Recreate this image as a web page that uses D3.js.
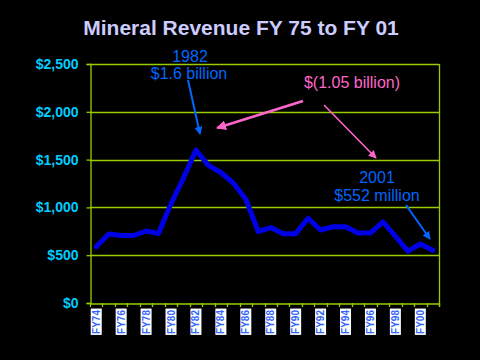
<!DOCTYPE html>
<html>
<head>
<meta charset="utf-8">
<script src="https://cdn.jsdelivr.net/npm/d3@7"></script>
<style>
html,body{margin:0;padding:0;background:#000;}
svg{display:block;}
</style>
</head>
<body>
<svg id="chart" width="480" height="360"></svg>
<script>
// ---- Data ----
const categories = ["FY74","FY75","FY76","FY77","FY78","FY79","FY80","FY81","FY82","FY83","FY84","FY85","FY86","FY87",
  "FY88","FY89","FY90","FY91","FY92","FY93","FY94","FY95","FY96","FY97","FY98","FY99","FY00","FY01"];
const revenue = [588,722,706,706,753,727,1040,1307,1600,1440,1365,1255,1085,748,
  789,725,725,887,764,798,798,732,732,848,700,543,617,552];
const xTickLabels = ["FY74","FY76","FY78","FY80","FY82","FY84","FY86","FY88","FY90","FY92","FY94","FY96","FY98","FY00"];
const yTicks = [0,500,1000,1500,2000,2500];
const titleText = "Mineral Revenue FY 75 to FY 01";

(function(){
// ---- Layout ----
const svg = d3.select("#chart");
const pL = 90, pR = 439, pT = 64, pB = 303;
const gridColor = "#99cc00";

const x = d3.scaleBand().domain(categories).range([pL, pR]).padding(0);
const y = d3.scaleLinear().domain([0, 2500]).range([pB, pT]);

svg.append("rect").attr("width",480).attr("height",360).attr("fill","#000");

// Title
svg.append("text").attr("x",241).attr("y",35).attr("text-anchor","middle")
  .attr("font-family","Liberation Sans, Arial, sans-serif").attr("font-weight","bold")
  .attr("font-size",21).attr("fill","#ccccff").text(titleText);

// Gridlines
svg.append("g").selectAll("line").data(yTicks.filter(d=>d>0)).join("line")
  .attr("x1",pL).attr("x2",pR).attr("y1",d=>Math.round(y(d))+0.5).attr("y2",d=>Math.round(y(d))+0.5)
  .attr("stroke",gridColor).attr("stroke-width",1.3);
// right border
svg.append("line").attr("x1",pR+0.5).attr("x2",pR+0.5).attr("y1",pT).attr("y2",pB+4)
  .attr("stroke",gridColor).attr("stroke-width",1.3);

// Y axis
const yAxis = d3.axisLeft(y).tickValues(yTicks).tickSize(4).tickFormat(d3.format("$,"));
const gy = svg.append("g").attr("transform",`translate(${pL+0.5},0)`).call(yAxis);
gy.select(".domain").attr("stroke",gridColor).attr("stroke-width",1.3);
gy.selectAll(".tick line").attr("stroke",gridColor).attr("stroke-width",1.3);
gy.selectAll(".tick text").attr("fill","#00ccff").attr("font-family","Liberation Sans, Arial, sans-serif")
  .attr("font-weight","bold").attr("font-size",14).attr("x",-12);

// X axis
const xAxis = d3.axisBottom(x).tickSize(0).tickFormat("");
const gx = svg.append("g").attr("transform",`translate(0,${pB+0.5})`).call(xAxis);
gx.select(".domain").attr("stroke",gridColor).attr("stroke-width",1.3);
gx.selectAll(".tick").remove();
const bounds = categories.map(c=>x(c)).concat([pR]);
svg.append("g").selectAll("line").data(bounds).join("line")
  .attr("x1",d=>Math.round(d)+0.5).attr("x2",d=>Math.round(d)+0.5)
  .attr("y1",pB).attr("y2",pB+4).attr("stroke",gridColor).attr("stroke-width",1.3);

// X labels: rotated on white boxes
const lg = svg.append("g");
xTickLabels.forEach(lbl=>{
  const cx = x(lbl) + x.bandwidth()/2;
  const g = lg.append("g").attr("transform",`translate(${cx},${pB+5}) rotate(-90)`);
  const t = g.append("text").attr("x",-2).attr("y",0).attr("dy","0.35em").attr("text-anchor","end")
    .attr("font-family","Liberation Sans, Arial, sans-serif").attr("font-weight","bold")
    .attr("font-size",10).attr("fill","#3366ff").text(lbl);
  const bb = t.node().getBBox();
  g.insert("rect","text").attr("x",bb.x-1).attr("y",-5.5).attr("width",bb.width+2).attr("height",11).attr("fill","#fff");
});

// Line
const line = d3.line().x((d,i)=>x(categories[i])+x.bandwidth()/2).y(d=>y(d));
svg.append("path").datum(revenue).attr("d",line).attr("fill","none")
  .attr("stroke","#0000e6").attr("stroke-width",5).attr("stroke-linejoin","round").attr("stroke-linecap","round");

// Annotations
const defs = svg.append("defs");
function marker(id,color,size){
  defs.append("marker").attr("id",id).attr("viewBox","0 0 10 10").attr("refX",9).attr("refY",5)
    .attr("markerWidth",size).attr("markerHeight",size).attr("orient","auto").attr("markerUnits","strokeWidth")
    .append("path").attr("d","M0,0 L10,5 L0,10 z").attr("fill",color);
}
marker("mb","#0066ff",4); marker("mp","#ff66cc",4); marker("mp2","#ff66cc",5);

const font = "Liberation Sans, Arial, sans-serif";
function label(txt,cx,by,color){
  svg.append("text").attr("x",cx).attr("y",by).attr("text-anchor","middle").attr("font-family",font)
    .attr("font-size",16).attr("fill",color).text(txt);
}
label("1982",190,61.5,"#0066ff");
label("$1.6 billion",189,79,"#0066ff");
label("$(1.05 billion)",352,88,"#ff66cc");
label("2001",377,183,"#0066ff");
label("$552 million",377,200.5,"#0066ff");

function arrow(x1,y1,x2,y2,color,w,m){
  svg.append("line").attr("x1",x1).attr("y1",y1).attr("x2",x2).attr("y2",y2)
    .attr("stroke",color).attr("stroke-width",w).attr("marker-end",`url(#${m})`);
}
arrow(188,80,200,134,"#0066ff",2,"mb");
arrow(303,101,217,128,"#ff66cc",2.5,"mp");
arrow(324,105,376,158,"#ff66cc",1.6,"mp2");
arrow(406,205,430,239,"#0066ff",2,"mb");
})();
</script>
</body>
</html>
